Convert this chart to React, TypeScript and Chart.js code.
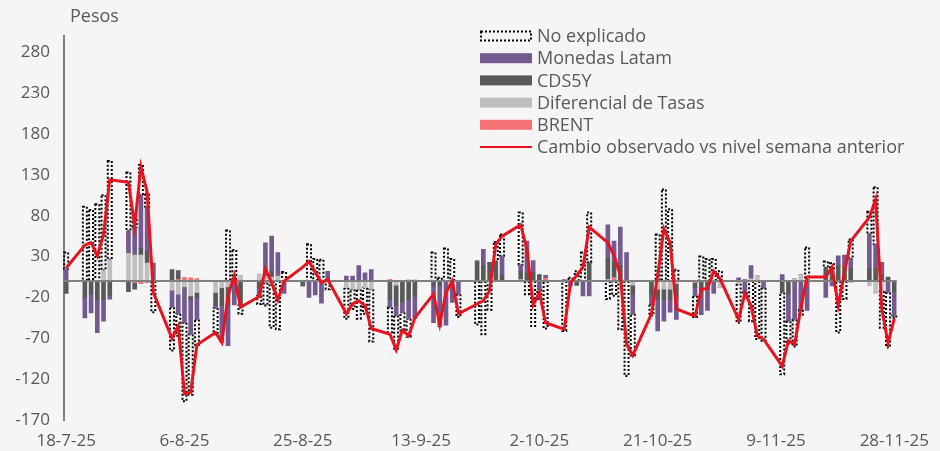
import React, { useEffect, useRef } from 'react';
import { Chart, registerables } from 'chart.js';
Chart.register(...registerables);

// Trading days (d-m-yy)
const fechas = [
  '18-7-25',
  '21-7-25', '22-7-25', '23-7-25', '24-7-25', '25-7-25',
  '28-7-25', '29-7-25', '30-7-25', '31-7-25', '1-8-25',
  '4-8-25', '5-8-25', '6-8-25', '7-8-25', '8-8-25',
  '11-8-25', '12-8-25', '13-8-25', '14-8-25', '15-8-25',
  '18-8-25', '19-8-25', '20-8-25', '21-8-25', '22-8-25',
  '25-8-25', '26-8-25', '27-8-25', '28-8-25', '29-8-25',
  '1-9-25', '2-9-25', '3-9-25', '4-9-25', '5-9-25',
  '8-9-25', '9-9-25', '10-9-25', '11-9-25', '12-9-25',
  '15-9-25', '16-9-25', '17-9-25', '18-9-25', '19-9-25',
  '22-9-25', '23-9-25', '24-9-25', '25-9-25', '26-9-25',
  '29-9-25', '30-9-25', '1-10-25', '2-10-25', '3-10-25',
  '6-10-25', '7-10-25', '8-10-25', '9-10-25', '10-10-25',
  '13-10-25', '14-10-25', '15-10-25', '16-10-25', '17-10-25',
  '20-10-25', '21-10-25', '22-10-25', '23-10-25', '24-10-25',
  '27-10-25', '28-10-25', '29-10-25', '30-10-25', '31-10-25',
  '3-11-25', '4-11-25', '5-11-25', '6-11-25', '7-11-25',
  '10-11-25', '11-11-25', '12-11-25', '13-11-25', '14-11-25',
  '17-11-25', '18-11-25', '19-11-25', '20-11-25', '21-11-25',
  '24-11-25', '25-11-25', '26-11-25', '27-11-25', '28-11-25',
];

const brent = [
  0,
  0, 0, 0, 0, 0,
  0, -2, -3, -2, 0,
  0, 2, 4, 4, 3,
  0, 0, 0, 0, 0,
  0, -2, 0, 0, 0,
  0, 0, 0, 0, 0,
  0, 0, 0, 0, 0,
  2, 0, 0, 0, 0,
  0, 0, 0, 0, 0,
  0, 0, 0, 0, 0,
  0, 0, 0, 0, 3,
  0, 0, 0, 0, 0,
  0, 4, 0, 0, 0,
  0, 0, 0, 0, 0,
  -2, 0, 0, 0, 0,
  0, 0, 0, 0, 0,
  0, 0, 0, 0, 0,
  0, 0, 0, 0, 0,
  0, 0, 0, 0, 0,
];

const diferencialTasas = [
  0,
  0, 0, 0, 13, 26,
  34, 32, 32, 22, 0,
  -11, -16, -7, -18, -14,
  -14, -8, -7, 0, 7,
  9, 6, 5, 6, 0,
  0, 0, 0, 0, 0,
  -8, -10, -10, -8, -10,
  0, -5, 0, 2, 2,
  0, 0, 0, 0, 0,
  0, 0, 0, 0, 0,
  2, 0, 0, 0, 0,
  0, 0, 0, 0, 0,
  2, 0, 0, 0, -5,
  0, -10, -10, -10, -3,
  0, 0, 0, 0, -8,
  -3, 0, 3, 6, 0,
  0, 0, 3, 8, 0,
  0, 0, 0, 0, -2,
  -6, -15, -12, 0, 0,
];

const cds5y = [
  -15,
  -20, -15, -23, -22, -17,
  -13, -8, 8, 14, 0,
  14, 11, 0, -4, -6,
  -16, -22, -22, 0, -30,
  -8, 8, 8, 0, 0,
  -6, 0, 0, 0, 0,
  0, 0, 0, 0, 0,
  -22, -25, -26, -22, -18,
  -6, -6, 0, 0, 0,
  23, 19, 23, 24, 7,
  10, 10, 11, 8, 0,
  0, 0, -5, 0, 23,
  26, 20, 19, 0, -11,
  -16, -12, -12, -12, -18,
  -6, -14, -10, 0, 0,
  0, 2, 0, 0, 0,
  -14, -16, 0, 0, 0,
  16, 14, 19, 18, 15,
  15, 15, 8, 5, -14,
];

const monedasLatam = [
  15,
  -25, -24, -40, -27, -5,
  27, 34, 65, 55, 22,
  -21, -24, -44, -43, -27,
  -3, -45, -50, -29, 0,
  -10, 33, 42, 29, -15,
  0, -20, -17, -27, 12,
  6, 6, 19, 10, 14,
  -10, -12, -12, -24, -28,
  -45, -50, -54, -26, -16,
  2, 20, 0, 0, 24,
  8, 39, 14, -10, 4,
  2, -6, 0, -18, -18,
  41, 25, 47, 35, -24,
  -12, -39, -27, -16, -26,
  -10, -27, -26, -15, 0,
  4, -14, 16, 0, -8,
  8, -33, -47, -35, -36,
  -20, -6, 12, 14, 12,
  42, 30, 15, -14, -28,
];

const noExplicado = [
  20,
  91, 87, 94, 92, 121,
  72, 10, 37, 16, -38,
  -53, -27, -96, -74, -31,
  -32, 0, 62, 38, -10,
  -10, -28, -57, -59, 11,
  0, 45, 27, 26, -10,
  -38, -24, -36, -32, -64,
  -33, -43, -22, -22, 0,
  35, 4, 40, 27, -28,
  -53, -65, -35, 24, 26,
  64, -16, -55, -12, -58,
  -61, 4, 12, 35, 61,
  -22, -18, -59, -116, -51,
  -14, 57, 112, 88, 14,
  -26, 30, 27, 27, 12,
  -48, -3, -49, -71, -65,
  -100, -28, -33, -6, 41,
  8, 8, -63, -22, 24,
  28, 70, -45, -67, -3,
];

const cambioObservado = [
  16,
  44, 47, 31, 57, 124,
  121, 68, 140, 109, -14,
  -70, -55, -138, -136, -78,
  -63, -75, -18, 7, -32,
  -19, 15, -2, -23, 0,
  17, 24, 11, -2, 2,
  -40, -28, -24, -30, -58,
  -65, -84, -60, -67, -45,
  -16, -53, -14, 0, -40,
  -28, -24, -12, 45, 55,
  69, 39, -29, -14, -51,
  -59, -2, 7, 17, 66,
  47, 31, 7, -77, -91,
  -40, 7, 64, 47, -34,
  -43, -10, -9, 12, 3,
  -47, -15, -30, -67, -71,
  -104, -73, -77, -33, 5,
  5, 17, -30, 11, 49,
  78, 100, -34, -76, -46,
];

const xTickLabels = ['18-7-25', '6-8-25', '25-8-25', '13-9-25', '2-10-25', '21-10-25', '9-11-25', '28-11-25'];
const yTickValues = [-170, -120, -70, -20, 30, 80, 130, 180, 230, 280];

const FONT = "'Open Sans', 'Noto Sans', sans-serif";
const TEXT = '#595959';

function dayOffset(s: string): number {
  const [d, m, y] = s.split('-').map(Number);
  const t = Date.UTC(2000 + y, m - 1, d);
  const [d0, m0, y0] = fechas[0].split('-').map(Number);
  const t0 = Date.UTC(2000 + y0, m0 - 1, d0);
  return Math.round((t - t0) / 86400000);
}

const xs = fechas.map(dayOffset);
const pts = (arr: number[]) => arr.map((v, i) => ({ x: xs[i], y: v }));

const customPlugin = {
  id: 'customDraw',
  afterDatasetDraw(chart: any, args: any) {
    const ctx = chart.ctx;
    const { left, right } = chart.chartArea;
    if (args.index === 5) {
      const meta = chart.getDatasetMeta(5);
      ctx.save();
      ctx.strokeStyle = '#000000';
      ctx.lineWidth = 2;
      ctx.setLineDash([2, 2]);
      meta.data.forEach((el: any, i: number) => {
        if (!noExplicado[i]) return;
        const p = el.getProps(['x', 'y', 'base', 'width'], true);
        const w = 4;
        const top = Math.min(p.y, p.base);
        const h = Math.abs(p.base - p.y);
        ctx.strokeRect(p.x - w / 2, top, w, h);
      });
      ctx.restore();
    }
    if (args.index === 1) {
      const y0 = chart.scales.y.getPixelForValue(0);
      ctx.save();
      ctx.strokeStyle = '#808080';
      ctx.lineWidth = 2;
      ctx.beginPath();
      ctx.moveTo(left, y0);
      ctx.lineTo(right, y0);
      ctx.stroke();
      ctx.restore();
    }
  },
  afterDraw(chart: any) {
    const ctx = chart.ctx;
    ctx.save();
    ctx.fillStyle = TEXT;
    ctx.font = `18px ${FONT}`;
    ctx.textAlign = 'left';
    ctx.textBaseline = 'middle';
    ctx.fillText('Pesos', 70, 17);

    const order = [5, 4, 3, 2, 1, 0];
    const x0 = 480;
    const yStart = 36;
    const dy = 22.2;
    order.forEach((di, r) => {
      const ds = chart.data.datasets[di];
      const cy = yStart + r * dy;
      if (di === 0) {
        ctx.strokeStyle = ds.borderColor;
        ctx.lineWidth = 2;
        ctx.setLineDash([]);
        ctx.beginPath();
        ctx.moveTo(x0, cy);
        ctx.lineTo(x0 + 52, cy);
        ctx.stroke();
      } else if (di === 5) {
        ctx.strokeStyle = '#000';
        ctx.lineWidth = 2;
        ctx.setLineDash([2, 2]);
        ctx.strokeRect(x0 + 1, cy - 4.5, 50, 9);
        ctx.setLineDash([]);
      } else {
        ctx.fillStyle = ds.backgroundColor;
        ctx.fillRect(x0, cy - 5, 52, 10);
      }
      ctx.fillStyle = TEXT;
      ctx.font = `18px ${FONT}`;
      ctx.textAlign = 'left';
      ctx.textBaseline = 'middle';
      ctx.fillText(ds.label, x0 + 57, cy + 1);
    });
    ctx.restore();
  },
};

export default function App() {
  const ref = useRef<HTMLCanvasElement | null>(null);
  useEffect(() => {
    document.body.style.margin = '0';
    document.body.style.background = '#f5f5f5';
    const canvas = ref.current;
    if (!canvas) return;
    const tickDays = xTickLabels.map(dayOffset);
    const barCommon = { type: 'bar' as const, stack: 'bars', barThickness: 4, borderWidth: 0, order: 1 };
    const chart = new Chart(canvas, {
      type: 'bar',
      data: {
        datasets: [
          {
            type: 'line',
            label: 'Cambio observado vs nivel semana anterior',
            data: pts(cambioObservado),
            borderColor: '#E8131F',
            backgroundColor: '#E8131F',
            borderWidth: 3,
            pointRadius: 0,
            tension: 0,
            stack: 'line',
            order: 0,
          } as any,
          { ...barCommon, label: 'BRENT', data: pts(brent), backgroundColor: '#F47174' },
          { ...barCommon, label: 'Diferencial de Tasas', data: pts(diferencialTasas), backgroundColor: '#BFBFBF' },
          { ...barCommon, label: 'CDS5Y', data: pts(cds5y), backgroundColor: '#595959' },
          { ...barCommon, label: 'Monedas Latam', data: pts(monedasLatam), backgroundColor: '#735A8F' },
          { ...barCommon, label: 'No explicado', data: pts(noExplicado), backgroundColor: 'rgba(0,0,0,0)' },
        ],
      },
      options: {
        responsive: false,
        animation: false,
        devicePixelRatio: 1,
        layout: { padding: { top: 36, right: 32, left: 0, bottom: 0 } },
        plugins: {
          legend: { display: false },
          tooltip: { enabled: false },
          title: { display: false },
        },
        scales: {
          x: {
            type: 'linear',
            stacked: true,
            offset: false,
            min: -0.35,
            max: 133.4,
            grid: { display: false, drawTicks: false },
            border: { display: false },
            afterBuildTicks: (scale: any) => {
              scale.ticks = tickDays.map((v) => ({ value: v }));
            },
            afterFit: (scale: any) => {
              scale.height = 31;
            },
            ticks: {
              autoSkip: false,
              maxRotation: 0,
              padding: 11,
              color: TEXT,
              font: { family: FONT, size: 17 },
              callback: (v: any) => {
                const i = tickDays.indexOf(Number(v));
                return i >= 0 ? xTickLabels[i] : '';
              },
            },
          },
          y: {
            type: 'linear',
            stacked: true,
            min: -170,
            max: 300,
            grid: { display: false, drawTicks: false },
            border: { display: true, color: '#808080', width: 2 },
            afterBuildTicks: (scale: any) => {
              scale.ticks = yTickValues.map((v) => ({ value: v }));
            },
            afterFit: (scale: any) => {
              scale.width = 64;
            },
            ticks: {
              padding: 14,
              color: TEXT,
              font: { family: FONT, size: 17 },
            },
          },
        },
      } as any,
      plugins: [customPlugin],
    });
    return () => chart.destroy();
  }, []);
  return (
    <div style={{ width: 940, height: 451, background: '#f5f5f5', position: 'relative' }}>
      <canvas ref={ref} width={940} height={451} style={{ display: 'block' }} />
    </div>
  );
}
